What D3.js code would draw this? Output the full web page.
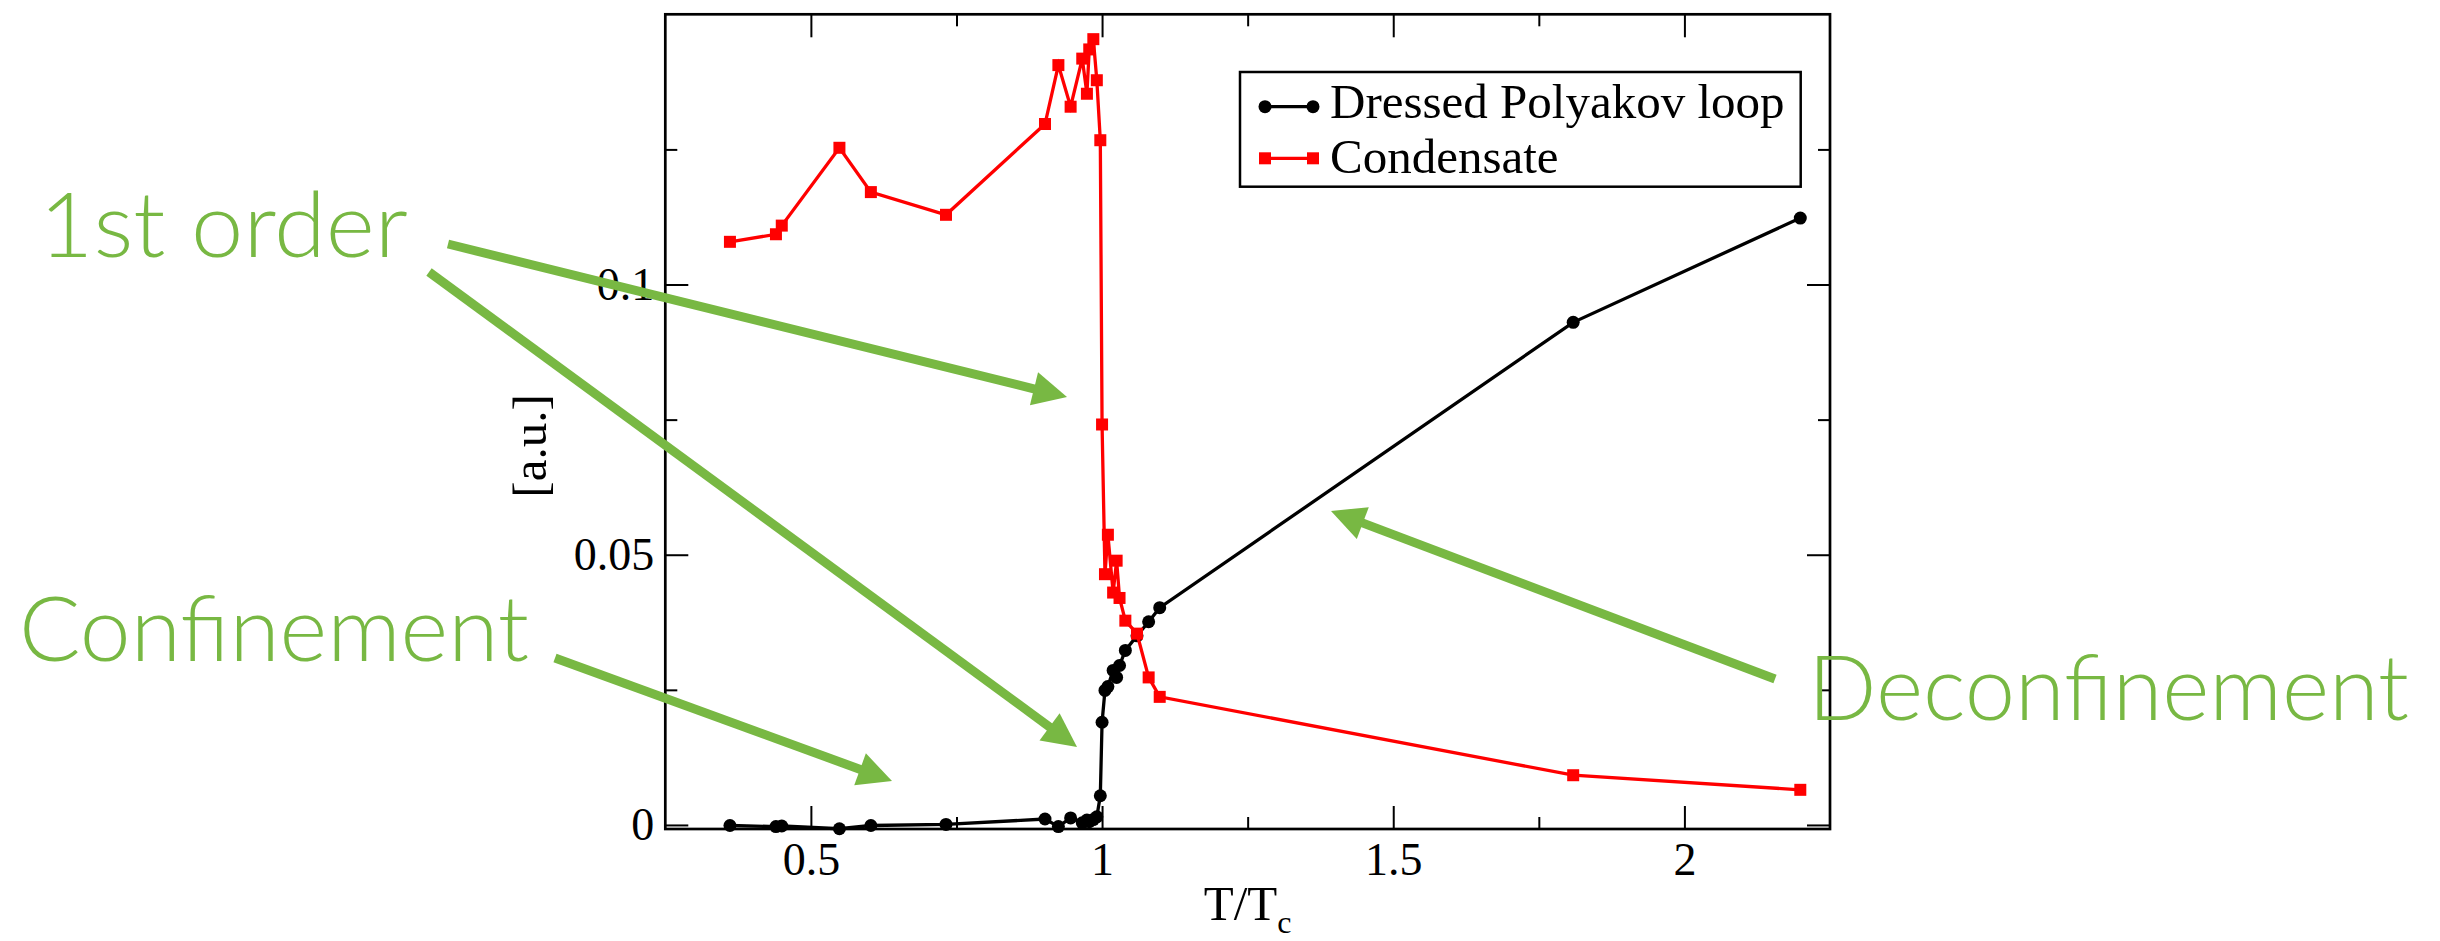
<!DOCTYPE html>
<html><head><meta charset="utf-8">
<script src="https://cdn.jsdelivr.net/npm/d3@7/dist/d3.min.js"></script>
<style>body{margin:0;background:#fff;} svg{display:block;}</style>
</head><body>
<svg id="chart" width="2440" height="941"></svg>
<script>
// ---------- data ----------
const T = [0.361, 0.440, 0.450, 0.549, 0.603, 0.732, 0.902, 0.925, 0.946, 0.966, 0.974, 0.978, 0.985, 0.991, 0.997,
           1.000, 1.005, 1.010, 1.019, 1.025, 1.030, 1.040, 1.060, 1.080, 1.099, 1.809, 2.199];
const polyakov = [-0.0001, -0.0003, -0.0002, -0.0007, -0.0001, 0.0001, 0.0011, -0.0003, 0.0013, 0.0004, 0.0009, 0.0006, 0.0010, 0.0015, 0.0054,
                  0.0190, 0.0249, 0.0256, 0.0286, 0.0273, 0.0295, 0.0323, 0.0350, 0.0376, 0.0402, 0.0930, 0.1123];
const condensate = [0.1079, 0.1093, 0.1109, 0.1253, 0.1171, 0.1129, 0.1297, 0.1406, 0.1329, 0.1418, 0.1353, 0.1435, 0.1454, 0.1378, 0.1267,
                    0.0741, 0.0464, 0.0537, 0.0430, 0.0489, 0.0420, 0.0378, 0.0354, 0.0273, 0.0237, 0.0092, 0.0065];
const seriesNames = ["Dressed Polyakov loop", "Condensate"];
const xMajor = [0.5, 1, 1.5, 2];
const xMinor = [0.75, 1.25, 1.75];
const yMajor = [0, 0.05, 0.1];
const yMinor = [0.025, 0.075, 0.125];
const xDomain = [0.25, 2.25];
const yDomain = [-0.00075, 0.15];
const xTitle = "T/T", xTitleSub = "c";
const yTitle = "[a.u.]";
const notes = ["1st order", "Confinement", "Deconfinement"];

// ---------- layout ----------
const plot = {left: 665.3, right: 1830, top: 14.3, bottom: 829};
const serif = "'Liberation Serif', 'Times New Roman', serif";
const green = "#78b843";

const svg = d3.select("#chart");
const x = d3.scaleLinear().domain(xDomain).range([plot.left, plot.right]);
const y = d3.scaleLinear().domain(yDomain).range([plot.bottom, plot.top]);

function styleAxis(g) {
  g.select(".domain").remove();
  g.selectAll(".tick line").attr("stroke", "#000").attr("stroke-width", 2);
  g.selectAll(".tick text").attr("font-family", serif).attr("font-size", 46).attr("fill", "#000");
}
const fmt = d => String(d);
// bottom
svg.append("g").attr("transform", `translate(0,${plot.bottom})`)
  .call(d3.axisBottom(x).tickValues(xMajor).tickSize(-23).tickPadding(13.5).tickFormat(fmt)).call(styleAxis);
svg.append("g").attr("transform", `translate(0,${plot.bottom})`)
  .call(d3.axisBottom(x).tickValues(xMinor).tickSize(-12).tickFormat("")).call(styleAxis);
// top
svg.append("g").attr("transform", `translate(0,${plot.top})`)
  .call(d3.axisTop(x).tickValues(xMajor).tickSize(-23).tickFormat("")).call(styleAxis);
svg.append("g").attr("transform", `translate(0,${plot.top})`)
  .call(d3.axisTop(x).tickValues(xMinor).tickSize(-12).tickFormat("")).call(styleAxis);
// left
svg.append("g").attr("transform", `translate(${plot.left},0)`)
  .call(d3.axisLeft(y).tickValues(yMajor).tickSize(-23).tickPadding(11).tickFormat(fmt)).call(styleAxis);
svg.append("g").attr("transform", `translate(${plot.left},0)`)
  .call(d3.axisLeft(y).tickValues(yMinor).tickSize(-12).tickFormat("")).call(styleAxis);
// right
svg.append("g").attr("transform", `translate(${plot.right},0)`)
  .call(d3.axisRight(y).tickValues(yMajor).tickSize(-23).tickFormat("")).call(styleAxis);
svg.append("g").attr("transform", `translate(${plot.right},0)`)
  .call(d3.axisRight(y).tickValues(yMinor).tickSize(-12).tickFormat("")).call(styleAxis);

// frame
svg.append("rect").attr("x", plot.left).attr("y", plot.top)
  .attr("width", plot.right - plot.left).attr("height", plot.bottom - plot.top)
  .attr("fill", "none").attr("stroke", "#000").attr("stroke-width", 2.7);

// ---------- series ----------
const idx = d3.range(T.length);
const linePoly = d3.line().x(i => x(T[i])).y(i => y(polyakov[i]));
const lineCond = d3.line().x(i => x(T[i])).y(i => y(condensate[i]));

svg.append("path").attr("d", linePoly(idx)).attr("fill", "none").attr("stroke", "#000").attr("stroke-width", 3.3);
svg.append("g").selectAll("circle").data(idx).join("circle")
  .attr("cx", i => x(T[i])).attr("cy", i => y(polyakov[i])).attr("r", 6.5).attr("fill", "#000");

svg.append("path").attr("d", lineCond(idx)).attr("fill", "none").attr("stroke", "#ff0000").attr("stroke-width", 3.3);
svg.append("g").selectAll("rect").data(idx).join("rect")
  .attr("x", i => x(T[i]) - 6).attr("y", i => y(condensate[i]) - 6)
  .attr("width", 12).attr("height", 12).attr("fill", "#ff0000");

// ---------- legend ----------
const leg = svg.append("g");
leg.append("rect").attr("x", 1240).attr("y", 72).attr("width", 560.7).attr("height", 114.7)
  .attr("fill", "#fff").attr("stroke", "#000").attr("stroke-width", 2.5);
const legRows = [
  {name: seriesNames[0], color: "#000", shape: "circle", cy: 106.7, base: 118.3},
  {name: seriesNames[1], color: "#ff0000", shape: "square", cy: 158.3, base: 173.3}
];
legRows.forEach(r => {
  leg.append("line").attr("x1", 1265).attr("x2", 1313).attr("y1", r.cy).attr("y2", r.cy)
    .attr("stroke", r.color).attr("stroke-width", 3.3);
  [1265, 1313].forEach(px => {
    if (r.shape === "circle") leg.append("circle").attr("cx", px).attr("cy", r.cy).attr("r", 6.5).attr("fill", r.color);
    else leg.append("rect").attr("x", px - 6).attr("y", r.cy - 6).attr("width", 12).attr("height", 12).attr("fill", r.color);
  });
  leg.append("text").attr("x", 1330).attr("y", r.base).attr("font-family", serif).attr("font-size", 49)
    .attr("fill", "#000").text(r.name);
});

// ---------- axis titles ----------
const xt = svg.append("text").attr("x", (plot.left + plot.right) / 2).attr("y", 920)
  .attr("text-anchor", "middle").attr("font-family", serif).attr("font-size", 49).attr("fill", "#000");
xt.append("tspan").text(xTitle);
xt.append("tspan").attr("font-size", 32).attr("dy", 13).text(xTitleSub);

svg.append("text").attr("transform", "translate(546,446) rotate(-90)")
  .attr("text-anchor", "middle").attr("font-family", serif).attr("font-size", 49).attr("fill", "#000").text(yTitle);

// ---------- annotations ----------
const labels = [
  {t: notes[0], x: 39, y: 257, len: 369},
  {t: notes[1], x: 19, y: 661, len: 510},
  {t: notes[2], x: 1808, y: 720, len: 601}
];
labels.forEach(l => svg.append("text").attr("x", l.x).attr("y", l.y)
  .attr("font-family", "Lato, 'Open Sans', sans-serif").attr("font-weight", 300).attr("font-size", 90).attr("fill", green)
  .attr("textLength", l.len).attr("lengthAdjust", "spacingAndGlyphs").text(l.t));

const arrows = [
  {from: [448, 244], to: [1067, 397]},
  {from: [429, 272], to: [1077, 747]},
  {from: [555, 658], to: [892, 781]},
  {from: [1775, 679], to: [1331, 511]}
];
const headLen = 34, headHalf = 17, shaft = 9;
arrows.forEach(a => {
  const dx = a.to[0] - a.from[0], dy = a.to[1] - a.from[1];
  const L = Math.hypot(dx, dy), ux = dx / L, uy = dy / L, px = -uy, py = ux;
  const bx = a.to[0] - ux * headLen, by = a.to[1] - uy * headLen;
  svg.append("line").attr("x1", a.from[0]).attr("y1", a.from[1]).attr("x2", bx + ux * 4).attr("y2", by + uy * 4)
    .attr("stroke", green).attr("stroke-width", shaft);
  svg.append("polygon")
    .attr("points", [[a.to[0], a.to[1]], [bx + px * headHalf, by + py * headHalf], [bx - px * headHalf, by - py * headHalf]]
      .map(p => p.join(",")).join(" "))
    .attr("fill", green);
});
</script>
</body></html>
